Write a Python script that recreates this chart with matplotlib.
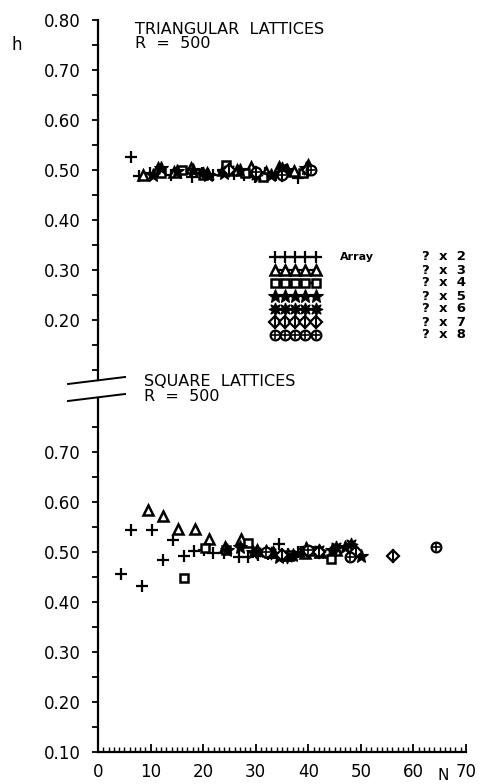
import numpy as np
import matplotlib
matplotlib.use("Agg")
import matplotlib.pyplot as plt
from matplotlib.lines import Line2D

plt.rcParams['font.family'] = ['DejaVu Sans']

# ---- triangular lattices (upper panel) ----
tri_plus_N = [6.2, 7.8, 9.8, 11.8, 13.8, 15.8, 17.8, 19.8, 21.8, 23.8, 25.8, 27.8, 29.8, 31.8, 33.8, 35.8, 38.0]
tri_plus_h = [0.527, 0.488, 0.495, 0.500, 0.490, 0.495, 0.487, 0.495, 0.490, 0.500, 0.493, 0.490, 0.487, 0.495, 0.490, 0.500, 0.485]
tri_tri_N = [8.5, 11.5, 14.5, 17.7, 20.7, 23.7, 26.5, 29.1, 32.0, 34.5, 37.2, 39.9]
tri_tri_h = [0.490, 0.505, 0.497, 0.505, 0.495, 0.500, 0.500, 0.507, 0.497, 0.507, 0.498, 0.510]
tri_sq_N = [12.0, 16.0, 20.0, 24.4, 28.0, 31.3, 35.0, 39.0]
tri_sq_h = [0.495, 0.500, 0.490, 0.510, 0.495, 0.487, 0.500, 0.495]
tri_star_N = [10.5, 12.0, 15.0, 18.0, 21.0, 24.0, 27.0, 30.0, 33.0, 36.0, 39.5]
tri_star_h = [0.490, 0.505, 0.498, 0.500, 0.490, 0.495, 0.500, 0.495, 0.490, 0.500, 0.505]
tri_burst_N = [20.0, 25.0, 30.0, 35.0, 40.0]
tri_burst_h = [0.495, 0.500, 0.490, 0.505, 0.500]
tri_dia_N = [25.0, 30.0, 35.0, 40.0]
tri_dia_h = [0.500, 0.495, 0.490, 0.500]
tri_circ_N = [30.0, 35.0, 40.5]
tri_circ_h = [0.497, 0.490, 0.500]

# ---- square lattices (lower panel) ----
sq_plus_N = [4.3, 6.2, 8.3, 10.2, 12.3, 14.3, 16.3, 18.3, 20.2, 21.8, 24.0, 26.8, 28.5, 30.4, 32.3, 34.5, 36.2, 38.1, 40.2]
sq_plus_h = [0.457, 0.545, 0.432, 0.545, 0.485, 0.525, 0.493, 0.503, 0.505, 0.499, 0.499, 0.490, 0.490, 0.494, 0.497, 0.517, 0.497, 0.500, 0.503]
sq_tri_N = [9.6, 12.3, 15.3, 18.4, 21.2, 24.2, 27.2, 30.2, 33.2, 36.2, 39.3, 42.2, 45.2]
sq_tri_h = [0.585, 0.573, 0.547, 0.547, 0.527, 0.510, 0.527, 0.505, 0.500, 0.495, 0.498, 0.500, 0.505]
sq_sq_N = [16.4, 20.3, 24.4, 28.5, 32.5, 36.5, 40.5, 44.4]
sq_sq_h = [0.448, 0.509, 0.505, 0.518, 0.498, 0.495, 0.502, 0.486]
sq_star_N = [24.5, 27.0, 29.5, 32.0, 34.5, 37.0, 39.5, 42.0, 44.5, 47.0, 50.1]
sq_star_h = [0.505, 0.510, 0.500, 0.502, 0.490, 0.495, 0.508, 0.500, 0.505, 0.510, 0.492]
sq_burst_N = [30.0, 33.0, 36.0, 39.0, 42.0, 45.3, 48.2]
sq_burst_h = [0.500, 0.498, 0.490, 0.500, 0.505, 0.510, 0.517]
sq_dia_N = [35.0, 42.0, 49.0, 56.1]
sq_dia_h = [0.495, 0.500, 0.500, 0.492]
sq_circ_N = [32.0, 40.0, 48.0, 64.2]
sq_circ_h = [0.500, 0.505, 0.490, 0.510]

x_ticks = [0, 10, 20, 30, 40, 50, 60, 70]
top_yticks = [0.20, 0.30, 0.40, 0.50, 0.60, 0.70, 0.80]
bot_yticks = [0.10, 0.20, 0.30, 0.40, 0.50, 0.60, 0.70]
array_labels = ["?  x  2", "?  x  3", "?  x  4", "?  x  5", "?  x  6", "?  x  7", "?  x  8"]

W, H = 480, 784
fig = plt.figure(figsize=(W / 100, H / 100), dpi=100)

left = 98 / W
right = 466 / W
ax_top = fig.add_axes([left, 1 - 380 / H, right - left, (380 - 20) / H])
ax_bot = fig.add_axes([left, 1 - 752 / H, right - left, (752 - 398) / H])

ax_top.set_xlim(0, 70)
ax_top.set_ylim(0.08, 0.80)
ax_bot.set_xlim(0, 70)
ax_bot.set_ylim(0.10, 0.808)

lw_axis = 1.6
for ax in (ax_top, ax_bot):
    for s in ('top', 'right'):
        ax.spines[s].set_visible(False)
    ax.spines['left'].set_linewidth(lw_axis)
    ax.patch.set_alpha(0)
    ax.tick_params(axis='y', which='major', direction='out', length=4.5, width=1.3,
                   pad=8, labelsize=12)
    ax.tick_params(axis='y', which='minor', direction='out', length=4.5, width=1.3)

ax_top.spines['bottom'].set_visible(False)
ax_top.set_xticks([])
ax_top.set_yticks(top_yticks)
ax_top.set_yticklabels([f"{v:.2f}" for v in top_yticks])
ax_top.set_yticks([0.10, 0.15, 0.25, 0.35, 0.45, 0.55, 0.65, 0.75], minor=True)

ax_bot.spines['bottom'].set_linewidth(lw_axis)
ax_bot.set_yticks(bot_yticks)
ax_bot.set_yticklabels([f"{v:.2f}" for v in bot_yticks])
ax_bot.set_yticks([0.15, 0.25, 0.35, 0.45, 0.55, 0.65, 0.75], minor=True)
ax_bot.set_xticks(x_ticks)
ax_bot.set_xticklabels([str(v) for v in x_ticks])
ax_bot.set_xticks(np.arange(0, 71, 1), minor=True)
ax_bot.tick_params(axis='x', which='major', direction='in', length=6, width=1.3,
                   pad=8, labelsize=12)
ax_bot.tick_params(axis='x', which='minor', direction='in', length=3.5, width=1.0)

# marker styles for the seven array sizes
styles = [
    dict(marker='+', ms=8, mew=1.6, color='black', mfc='none'),
    dict(marker='^', ms=6.5, mew=1.8, color='black', mfc='white'),
    dict(marker='s', ms=5.8, mew=1.8, color='black', mfc='white'),
    dict(marker='*', ms=10, mew=0.8, color='black', mfc='black'),
    dict(marker=(8, 1, 0), ms=9.5, mew=0.8, color='black', mfc='black'),
    dict(marker='D', ms=6, mew=1.6, color='black', mfc='white'),
    dict(marker='o', ms=7, mew=1.6, color='black', mfc='white'),
]


def draw_series(ax, N, h, k, ls='none'):
    ax.plot(N, h, ls=ls, lw=1.6, **styles[k], zorder=3)
    if k == 5:
        ax.plot(N, h, ls='none', marker='|', ms=10, mew=1.4, color='black', zorder=4)
    if k == 6:
        ax.plot(N, h, ls='none', marker='+', ms=6, mew=1.2, color='black', zorder=4)


top_sets = [(tri_plus_N, tri_plus_h), (tri_tri_N, tri_tri_h), (tri_sq_N, tri_sq_h),
            (tri_star_N, tri_star_h), (tri_burst_N, tri_burst_h),
            (tri_dia_N, tri_dia_h), (tri_circ_N, tri_circ_h)]
bot_sets = [(sq_plus_N, sq_plus_h), (sq_tri_N, sq_tri_h), (sq_sq_N, sq_sq_h),
            (sq_star_N, sq_star_h), (sq_burst_N, sq_burst_h),
            (sq_dia_N, sq_dia_h), (sq_circ_N, sq_circ_h)]
for k, (N, h) in enumerate(top_sets):
    draw_series(ax_top, N, h, k)
for k, (N, h) in enumerate(bot_sets):
    draw_series(ax_bot, N, h, k)

# key: five symbols per row on a short line
key_x = np.linspace(33.6, 41.4, 5)
key_y0, key_dy = 0.326, 0.026
for k in range(7):
    yk = key_y0 - k * key_dy
    draw_series(ax_top, key_x, np.full(5, yk), k, ls='-')
    ax_top.text(61.6, yk, array_labels[k], fontsize=9.5, fontweight='bold',
                va='center', ha='left')
ax_top.text(46.0, key_y0, "Array", fontsize=8, fontweight='bold',
            va='center', ha='left')

# panel titles
ax_top.text(0.10, 0.995, "TRIANGULAR  LATTICES\nR  =  500", transform=ax_top.transAxes,
            fontsize=11.5, va='top', ha='left', linespacing=0.95)
ax_bot.text(0.125, 1.025, "SQUARE  LATTICES\nR  =  500", transform=ax_bot.transAxes,
            fontsize=11.5, va='center', ha='left', linespacing=0.95)

# axis labels
fig.text(17 / W, 1 - 45 / H, "h", fontsize=12, ha='center', va='center')
fig.text(443 / W, 1 - 783 / H, "N", fontsize=11, ha='center', va='bottom')

# break marks on the vertical axis
for y0, y1 in ((384, 377), (401, 394)):
    fig.add_artist(Line2D([68 / W, 125 / W], [1 - y0 / H, 1 - y1 / H],
                          transform=fig.transFigure, color='black', lw=1.4))

fig.savefig("out.png", dpi=100, facecolor='white')
